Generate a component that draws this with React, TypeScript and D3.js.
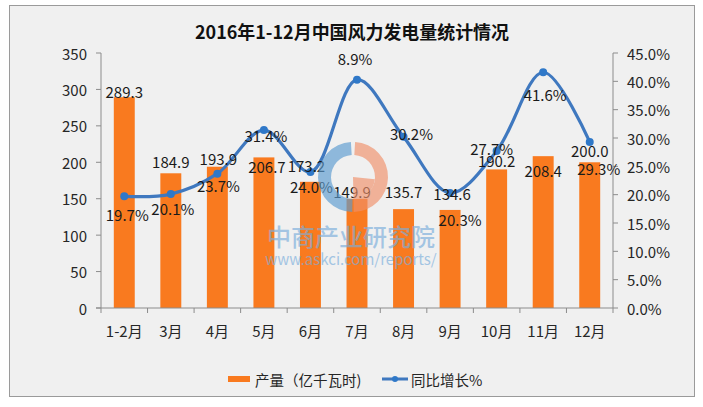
import React from "react";
import * as d3 from "d3";

const categories = ["1-2月", "3月", "4月", "5月", "6月", "7月", "8月", "9月", "10月", "11月", "12月"];
const output = [289.3, 184.9, 193.9, 206.7, 173.2, 149.9, 135.7, 134.6, 190.2, 208.4, 200.0];
const growth = [19.7, 20.1, 23.7, 31.4, 24.0, 40.3, 30.2, 20.3, 27.7, 41.6, 29.3];
const growthLabels = ["19.7%", "20.1%", "23.7%", "31.4%", "24.0%", "8.9%", "30.2%", "20.3%", "27.7%", "41.6%", "29.3%"];
const leftTicks = [0, 50, 100, 150, 200, 250, 300, 350];
const rightTicks = [0, 5, 10, 15, 20, 25, 30, 35, 40, 45];

// label placement offsets (layout, not data)
const barLabelDx = [0, 0, 1, 3, -4, -5, 0, 2, 0, 0, 0];
const barLabelDy = [-6, -12, -8, 9, -16, -7, -18, -16, -9, 14, -12];
const pctLabelDx = [3, 2, 1, 2, 1, -2, 8, 10, -5, 2, 9];
const pctLabelDy = [18, 14, 12, 5, 14, -21, -3, 27, -3, 22, 27];

const FONT = "'Noto Sans CJK SC', 'Noto Sans', sans-serif";
const W = 703;
const H = 407;
const plot = { left: 101, right: 613, top: 53, bottom: 308 };
const ORANGE = "#f97a1f";
const BLUE = "#3f78bf";

export default function App() {
  const x = d3
    .scaleBand<string>()
    .domain(categories)
    .range([plot.left, plot.right])
    .paddingInner(0.55)
    .paddingOuter(0.275);
  const step = (plot.right - plot.left) / categories.length;
  const cx = (c: string) => (x(c) as number) + x.bandwidth() / 2;
  const yL = d3.scaleLinear().domain([0, 350]).range([plot.bottom, plot.top]);
  const yR = d3.scaleLinear().domain([0, 45]).range([plot.bottom, plot.top]);

  const lineGen = d3
    .line<number>()
    .x((_, i) => cx(categories[i]))
    .y((d) => yR(d))
    .curve(d3.curveCatmullRom.alpha(0.5));

  const axisColor = "#8c8c8c";
  const textColor = "#262626";

  // watermark logo
  const logoCx = 353;
  const logoCy = 177;
  const arcBlue = d3.arc()({ innerRadius: 22, outerRadius: 35, startAngle: Math.PI + 0.02, endAngle: 2 * Math.PI - 0.06 }) as string;
  const arcSalmon = d3.arc()({ innerRadius: 22, outerRadius: 35, startAngle: 0.06, endAngle: Math.PI - 0.02 }) as string;
  const arcSalmonFill = d3.arc()({ innerRadius: 0, outerRadius: 22, startAngle: Math.PI / 2 + 0.1, endAngle: Math.PI - 0.02 }) as string;

  return (
    <svg
      width={W}
      height={H}
      style={{ position: "absolute", left: 0, top: 0, fontFamily: FONT }}
    >
      <rect x={0} y={0} width={W} height={H} fill="#ffffff" />
      <rect x={9.5} y={5.5} width={685} height={391} fill="#f0f0f0" stroke="#9a9a9a" strokeWidth={1} />

      {/* title */}
      <text x={352} y={39} textAnchor="middle" fontSize={18} fontWeight="bold" fill="#111" textLength={314} lengthAdjust="spacingAndGlyphs">
        2016年1-12月中国风力发电量统计情况
      </text>

      {/* bars */}
      {output.map((v, i) => (
        <rect
          key={"b" + i}
          x={x(categories[i])}
          y={yL(v)}
          width={x.bandwidth()}
          height={plot.bottom - yL(v)}
          fill={ORANGE}
        />
      ))}

      {/* left axis */}
      <line x1={plot.left} x2={plot.left} y1={plot.top} y2={plot.bottom} stroke={axisColor} />
      {leftTicks.map((t) => (
        <g key={"lt" + t}>
          <line x1={plot.left - 5} x2={plot.left} y1={yL(t)} y2={yL(t)} stroke={axisColor} />
          <text x={87} y={yL(t)} textAnchor="end" dominantBaseline="central" fontSize={15} fill={textColor}>
            {t}
          </text>
        </g>
      ))}

      {/* right axis */}
      <line x1={plot.right} x2={plot.right} y1={plot.top} y2={plot.bottom} stroke={axisColor} />
      {rightTicks.map((t) => (
        <g key={"rt" + t}>
          <line x1={plot.right} x2={plot.right + 5} y1={yR(t)} y2={yR(t)} stroke={axisColor} />
          <text x={627} y={yR(t)} textAnchor="start" dominantBaseline="central" fontSize={15} fill={textColor}>
            {t.toFixed(1) + "%"}
          </text>
        </g>
      ))}

      {/* x axis */}
      <line x1={plot.left - 5} x2={plot.right} y1={plot.bottom} y2={plot.bottom} stroke={axisColor} />
      {d3.range(categories.length + 1).map((i) => (
        <line
          key={"xt" + i}
          x1={plot.left + i * step}
          x2={plot.left + i * step}
          y1={plot.bottom}
          y2={plot.bottom + 5}
          stroke={axisColor}
        />
      ))}
      {categories.map((c) => (
        <text key={"xl" + c} x={cx(c)} y={330} textAnchor="middle" dominantBaseline="central" fontSize={15} fill={textColor}>
          {c}
        </text>
      ))}

      {/* line */}
      <path d={lineGen(growth) as string} fill="none" stroke={BLUE} strokeWidth={3.2} />
      {growth.map((v, i) => (
        <circle key={"p" + i} cx={cx(categories[i])} cy={yR(v)} r={4} fill="#2f78c8" />
      ))}

      {/* bar labels */}
      {output.map((v, i) => (
        <text
          key={"bl" + i}
          x={cx(categories[i]) + barLabelDx[i]}
          y={yL(v) + barLabelDy[i]}
          textAnchor="middle"
          dominantBaseline="central"
          fontSize={15}
          fill="#1a1a1a"
        >
          {v.toFixed(1)}
        </text>
      ))}

      {/* percentage labels */}
      {growth.map((v, i) => (
        <text
          key={"gl" + i}
          x={cx(categories[i]) + pctLabelDx[i]}
          y={yR(v) + pctLabelDy[i]}
          textAnchor="middle"
          dominantBaseline="central"
          fontSize={15}
          fill="#1a1a1a"
        >
          {growthLabels[i]}
        </text>
      ))}

      {/* watermark */}
      <g opacity={0.65}>
        <g transform={`translate(${logoCx},${logoCy})`}>
          <path d={arcBlue} fill="#5b9bd0" />
          <path d={arcSalmon} fill="#f0906a" />
          <path d={arcSalmonFill} fill="#f0906a" />
        </g>
        <text x={351} y={235} textAnchor="middle" dominantBaseline="central" fontSize={24} fontWeight={500} fill="#7aaedc">
          中商产业研究院
        </text>
        <text x={351} y={258} textAnchor="middle" dominantBaseline="central" fontSize={15} fill="#7aaedc">
          www.askci.com/reports/
        </text>
      </g>

      {/* legend */}
      <rect x={228} y={376} width={22} height={6} fill={ORANGE} />
      <text x={255} y={379} dominantBaseline="central" fontSize={14.5} fill={textColor}>
        产量（亿千瓦时)
      </text>
      <line x1={382} x2={408} y1={379} y2={379} stroke={BLUE} strokeWidth={3} />
      <circle cx={395} cy={379} r={3} fill="#2f78c8" />
      <text x={411} y={379} dominantBaseline="central" fontSize={14.5} fill={textColor}>
        同比增长%
      </text>
    </svg>
  );
}
